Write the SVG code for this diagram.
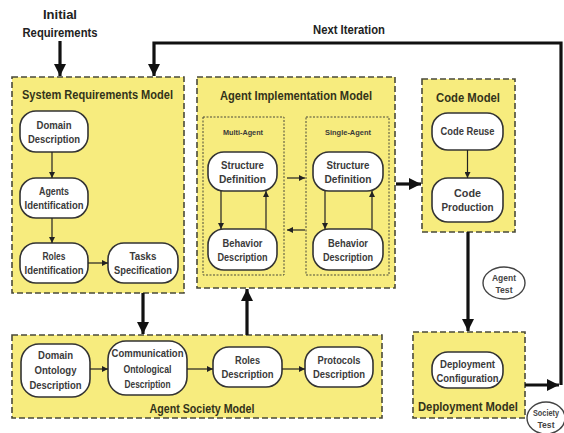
<svg xmlns="http://www.w3.org/2000/svg" width="564" height="433" viewBox="0 0 564 433">
<style>
.bg{fill:#ffffff}
.model{fill:#f7ec7e;stroke:#4a4a3a;stroke-width:1.6;stroke-dasharray:6 3}
.sub{fill:none;stroke:#4a4a3a;stroke-width:1;stroke-dasharray:2 1.5}
.pill{fill:#ffffff;stroke:#333333;stroke-width:1.6}
.oval{fill:#ffffff;stroke:#444444;stroke-width:1.4}
.title{font-family:"Liberation Sans",Arial,sans-serif;font-weight:bold;font-size:13px;fill:#33331a;text-anchor:middle}
.t{font-family:"Liberation Sans",Arial,sans-serif;font-weight:bold;font-size:10.5px;fill:#3a3a3a;text-anchor:middle}
.s{font-family:"Liberation Sans",Arial,sans-serif;font-weight:bold;font-size:7.5px;fill:#3a3a3a;text-anchor:middle}
.o{font-family:"Liberation Sans",Arial,sans-serif;font-weight:bold;font-size:8.5px;fill:#444444;text-anchor:middle}
.lab{font-family:"Liberation Sans",Arial,sans-serif;font-weight:bold;font-size:12.5px;fill:#222222;text-anchor:middle}
.thin{fill:none;stroke:#222222;stroke-width:1.2;marker-end:url(#ah)}
.thick{fill:none;stroke:#111111;stroke-width:3.2;marker-end:url(#AH)}
</style>
<defs>
<marker id="ah" viewBox="0 0 10 10" refX="10" refY="5" markerWidth="6" markerHeight="6" markerUnits="userSpaceOnUse" orient="auto">
<path d="M0,0 L10,5 L0,10 z" fill="#222222"/>
</marker>
<marker id="AH" viewBox="0 0 10 10" refX="10" refY="5" markerWidth="14" markerHeight="12" markerUnits="userSpaceOnUse" orient="auto">
<path d="M0,0 L10,5 L0,10 z" fill="#111111"/>
</marker>
</defs>
<rect class="bg" x="0" y="0" width="564" height="433"/>

<g id="initial-requirements">
<text class="lab" x="60" y="19" textLength="34" lengthAdjust="spacingAndGlyphs">Initial</text>
<text class="lab" x="60" y="37" textLength="75" lengthAdjust="spacingAndGlyphs">Requirements</text>
</g>
<g id="next-iteration-label">
<text class="lab" x="349" y="34" textLength="72" lengthAdjust="spacingAndGlyphs">Next Iteration</text>
</g>

<g id="system-requirements-model">
<rect class="model" x="12" y="77" width="172" height="216"/>
<text class="title" x="97.5" y="98.5" textLength="151" lengthAdjust="spacingAndGlyphs">System Requirements Model</text>
</g>
<g id="domain-description">
<rect class="pill" x="20" y="111" width="68" height="41" rx="16"/>
<text class="t" x="54" y="129" textLength="35" lengthAdjust="spacingAndGlyphs">Domain</text>
<text class="t" x="54" y="142.5" textLength="52" lengthAdjust="spacingAndGlyphs">Description</text>
</g>
<g id="agents-identification">
<rect class="pill" x="20" y="178" width="68" height="40" rx="16"/>
<text class="t" x="54" y="195" textLength="30" lengthAdjust="spacingAndGlyphs">Agents</text>
<text class="t" x="54" y="208.5" textLength="59" lengthAdjust="spacingAndGlyphs">Identification</text>
</g>
<g id="roles-identification">
<rect class="pill" x="20" y="243" width="68" height="40" rx="16"/>
<text class="t" x="54" y="260" textLength="23" lengthAdjust="spacingAndGlyphs">Roles</text>
<text class="t" x="54" y="273.5" textLength="59" lengthAdjust="spacingAndGlyphs">Identification</text>
</g>
<g id="tasks-specification">
<rect class="pill" x="108" y="243" width="70" height="40" rx="16"/>
<text class="t" x="143" y="260" textLength="27" lengthAdjust="spacingAndGlyphs">Tasks</text>
<text class="t" x="143" y="273.5" textLength="58" lengthAdjust="spacingAndGlyphs">Specification</text>
</g>

<g id="agent-implementation-model">
<rect class="model" x="197" y="77" width="198" height="211"/>
<text class="title" x="296" y="99.5" textLength="152" lengthAdjust="spacingAndGlyphs">Agent Implementation Model</text>
</g>
<g id="multi-agent">
<rect class="sub" x="203" y="117" width="81" height="158"/>
<text class="s" x="243" y="135" textLength="40" lengthAdjust="spacingAndGlyphs">Multi-Agent</text>
</g>
<g id="single-agent">
<rect class="sub" x="306" y="117" width="83" height="158"/>
<text class="s" x="348" y="135" textLength="46" lengthAdjust="spacingAndGlyphs">Single-Agent</text>
</g>
<g id="ma-structure-definition">
<rect class="pill" x="208" y="152" width="69" height="39" rx="16"/>
<text class="t" x="242.5" y="169" textLength="43" lengthAdjust="spacingAndGlyphs">Structure</text>
<text class="t" x="242.5" y="182.5" textLength="47" lengthAdjust="spacingAndGlyphs">Definition</text>
</g>
<g id="ma-behavior-description">
<rect class="pill" x="208" y="229" width="69" height="41" rx="16"/>
<text class="t" x="242.5" y="247" textLength="40" lengthAdjust="spacingAndGlyphs">Behavior</text>
<text class="t" x="242.5" y="260.5" textLength="50" lengthAdjust="spacingAndGlyphs">Description</text>
</g>
<g id="sa-structure-definition">
<rect class="pill" x="313" y="152" width="70" height="39" rx="16"/>
<text class="t" x="348" y="169" textLength="43" lengthAdjust="spacingAndGlyphs">Structure</text>
<text class="t" x="348" y="182.5" textLength="47" lengthAdjust="spacingAndGlyphs">Definition</text>
</g>
<g id="sa-behavior-description">
<rect class="pill" x="313" y="229" width="70" height="41" rx="16"/>
<text class="t" x="348" y="247" textLength="40" lengthAdjust="spacingAndGlyphs">Behavior</text>
<text class="t" x="348" y="260.5" textLength="50" lengthAdjust="spacingAndGlyphs">Description</text>
</g>

<g id="code-model">
<rect class="model" x="422" y="79" width="93" height="153"/>
<text class="title" x="468" y="101.5" textLength="64" lengthAdjust="spacingAndGlyphs">Code Model</text>
</g>
<g id="code-reuse">
<rect class="pill" x="432" y="113" width="71" height="37" rx="16"/>
<text class="t" x="467.5" y="135" textLength="54" lengthAdjust="spacingAndGlyphs">Code Reuse</text>
</g>
<g id="code-production">
<rect class="pill" x="432" y="178" width="71" height="44" rx="16"/>
<text class="t" x="467.5" y="197" textLength="27" lengthAdjust="spacingAndGlyphs">Code</text>
<text class="t" x="467.5" y="211" textLength="52" lengthAdjust="spacingAndGlyphs">Production</text>
</g>

<g id="agent-test">
<ellipse class="oval" cx="504" cy="283" rx="21" ry="16"/>
<text class="o" x="504" y="281" textLength="24" lengthAdjust="spacingAndGlyphs">Agent</text>
<text class="o" x="504" y="293" textLength="17" lengthAdjust="spacingAndGlyphs">Test</text>
</g>

<g id="deployment-model">
<rect class="model" x="413" y="332" width="112" height="86"/>
<text class="title" x="468" y="410.5" textLength="100" lengthAdjust="spacingAndGlyphs">Deployment Model</text>
</g>
<g id="deployment-configuration">
<rect class="pill" x="432" y="352" width="71" height="36" rx="16"/>
<text class="t" x="467.5" y="368" textLength="55" lengthAdjust="spacingAndGlyphs">Deployment</text>
<text class="t" x="467.5" y="381.5" textLength="62" lengthAdjust="spacingAndGlyphs">Configuration</text>
</g>

<g id="society-test">
<ellipse class="oval" cx="546" cy="418" rx="19" ry="16"/>
<text class="o" x="546" y="416" textLength="26" lengthAdjust="spacingAndGlyphs">Society</text>
<text class="o" x="546" y="428" textLength="17" lengthAdjust="spacingAndGlyphs">Test</text>
</g>

<g id="agent-society-model">
<rect class="model" x="12" y="335" width="370" height="83"/>
<text class="title" x="202" y="412.5" textLength="105" lengthAdjust="spacingAndGlyphs">Agent Society Model</text>
</g>
<g id="domain-ontology-description">
<rect class="pill" x="21" y="344" width="69" height="53" rx="18"/>
<text class="t" x="55.5" y="359" textLength="35" lengthAdjust="spacingAndGlyphs">Domain</text>
<text class="t" x="55.5" y="374" textLength="42" lengthAdjust="spacingAndGlyphs">Ontology</text>
<text class="t" x="55.5" y="388.5" textLength="52" lengthAdjust="spacingAndGlyphs">Description</text>
</g>
<g id="communication-ontological-description">
<rect class="pill" x="108" y="341" width="79" height="54" rx="18"/>
<text class="t" x="147.5" y="357" textLength="72" lengthAdjust="spacingAndGlyphs">Communication</text>
<text class="t" x="147.5" y="373" textLength="48" lengthAdjust="spacingAndGlyphs">Ontological</text>
<text class="t" x="147.5" y="387.5" textLength="46" lengthAdjust="spacingAndGlyphs">Description</text>
</g>
<g id="roles-description">
<rect class="pill" x="213" y="347" width="69" height="40" rx="16"/>
<text class="t" x="247.5" y="364" textLength="25" lengthAdjust="spacingAndGlyphs">Roles</text>
<text class="t" x="247.5" y="377.5" textLength="52" lengthAdjust="spacingAndGlyphs">Description</text>
</g>
<g id="protocols-description">
<rect class="pill" x="305" y="347" width="68" height="40" rx="16"/>
<text class="t" x="339" y="364" textLength="43" lengthAdjust="spacingAndGlyphs">Protocols</text>
<text class="t" x="339" y="377.5" textLength="52" lengthAdjust="spacingAndGlyphs">Description</text>
</g>

<g id="connectors">
<path class="thin" d="M52,152 L52,178"/>
<path class="thin" d="M52,218 L52,243"/>
<path class="thin" d="M88,263 L108,263"/>
<path class="thin" d="M221,191 L221,229"/>
<path class="thin" d="M266,229 L266,191"/>
<path class="thin" d="M325,191 L325,229"/>
<path class="thin" d="M372,229 L372,191"/>
<path class="thin" d="M287,178 L305,178"/>
<path class="thin" d="M305,230 L287,230"/>
<path class="thin" d="M467.5,150 L467.5,178"/>
<path class="thin" d="M90,369 L108,369"/>
<path class="thin" d="M187,369 L213,369"/>
<path class="thin" d="M282,369 L305,369"/>
<path class="thick" d="M60,41 L60,76"/>
<path class="thick" d="M561,385 L561,43 L154,43 L154,76"/>
<path class="thick" d="M525,385 L559,385"/>
<path class="thick" d="M396,184 L421,184"/>
<path class="thick" d="M468,232 L468,331"/>
<path class="thick" d="M143,293 L143,334"/>
<path class="thick" d="M247,335 L247,289"/>
</g>
</svg>
